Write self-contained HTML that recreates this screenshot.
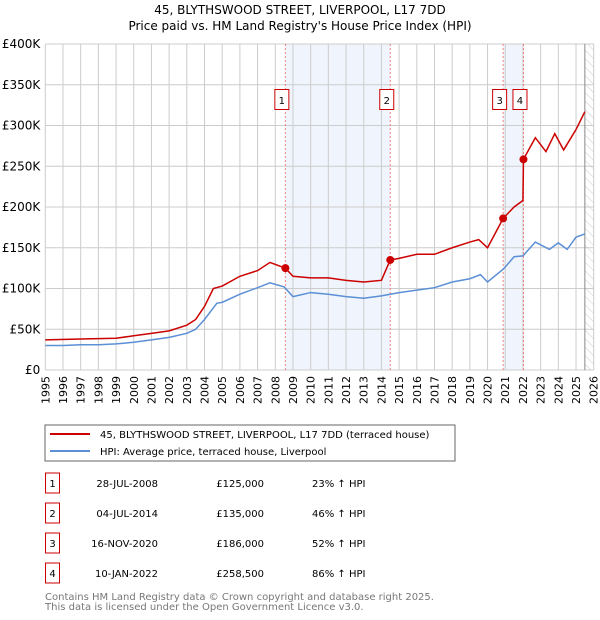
<!DOCTYPE html>
<html><head><meta charset="utf-8"><style>
body{margin:0;width:600px;height:620px;background:#fff;font-family:"DejaVu Sans","Liberation Sans",sans-serif;overflow:hidden}
svg{position:absolute;left:0;top:0}
</style></head><body>
<svg id="c" width="600" height="620" viewBox="0 0 600 620" xmlns="http://www.w3.org/2000/svg">
<defs><pattern id="h" width="6" height="6" patternUnits="userSpaceOnUse" patternTransform="rotate(-45)"><line x1="0" y1="0" x2="0" y2="6" stroke="#ccc" stroke-width="1"/></pattern></defs>
<text x="300" y="14" text-anchor="middle" font-size="12">45, BLYTHSWOOD STREET, LIVERPOOL, L17 7DD</text>
<text x="300" y="30" text-anchor="middle" font-size="12">Price paid vs. HM Land Registry's House Price Index (HPI)</text>
<g id="plot"></g>
<rect x="45" y="425" width="410" height="36" fill="#fff" stroke="#666"/>
<line x1="50" y1="434" x2="90" y2="434" stroke="#cc0000" stroke-width="2"/>
<text x="100" y="438" font-size="10">45, BLYTHSWOOD STREET, LIVERPOOL, L17 7DD (terraced house)</text>
<line x1="50" y1="451" x2="90" y2="451" stroke="#5b8fd6" stroke-width="2"/>
<text x="100" y="455" font-size="10">HPI: Average price, terraced house, Liverpool</text>
<g id="tbl" font-size="10"></g>
<text x="45" y="600" font-size="10" fill="#777">Contains HM Land Registry data © Crown copyright and database right 2025.</text>
<text x="45" y="610" font-size="10" fill="#777">This data is licensed under the Open Government Licence v3.0.</text>
</svg>
<script>
const years=[1995,1996,1997,1998,1999,2000,2001,2002,2003,2004,2005,2006,2007,2008,2009,2010,2011,2012,2013,2014,2015,2016,2017,2018,2019,2020,2021,2022,2023,2024,2025,2026];
const yTicks=[0,50000,100000,150000,200000,250000,300000,350000,400000];
const yTickLabels=["£0","£50K","£100K","£150K","£200K","£250K","£300K","£350K","£400K"];
const hpiT=[1995,1996,1997,1998,1999,2000,2001,2002,2003,2003.5,2004,2004.7,2005,2006,2007,2007.7,2008.5,2009,2010,2011,2012,2013,2014,2015,2016,2017,2018,2019,2019.6,2020,2020.9,2021.5,2022,2022.7,2023.5,2024,2024.5,2025,2025.5];
const hpiV=[30000,30000,31000,31000,32000,34000,37000,40000,45000,50000,62000,82000,83000,93000,101000,107000,102000,90000,95000,93000,90000,88000,91000,95000,98000,101000,108000,112000,117000,108000,124000,139000,140000,157000,148000,156000,148000,163000,167000];
const priceT=[1995,1997,1999,2000,2001,2002,2003,2003.5,2004,2004.5,2005,2006,2007,2007.7,2008.57,2009,2010,2011,2012,2013,2014,2014.5,2015,2016,2017,2018,2019,2019.5,2020,2020.88,2021.5,2022.0,2022.03,2022.7,2023.3,2023.8,2024.3,2025,2025.5];
const priceV=[37000,38000,39000,42000,45000,48000,55000,62000,78000,100000,103000,115000,122000,132000,125000,115000,113000,113000,110000,108000,110000,135000,137000,142000,142000,150000,157000,160000,150000,186000,200000,208000,258500,285000,268000,290000,270000,295000,317000];
const saleLabels=["1","2","3","4"];
const saleT=[2008.57,2014.5,2020.88,2022.03];
const saleV=[125000,135000,186000,258500];
const saleDates=["28-JUL-2008","04-JUL-2014","16-NOV-2020","10-JAN-2022"];
const salePrices=["£125,000","£135,000","£186,000","£258,500"];
const saleHpi=["23% ↑ HPI","46% ↑ HPI","52% ↑ HPI","86% ↑ HPI"];
const NS="http://www.w3.org/2000/svg";
const X0=45.3,XR=593.7,Y0=370,Y1=44;
const xs=t=>X0+(t-1995)/(2026-1995)*(XR-X0);
const ys=v=>Y0-v/400000*(Y0-Y1);
const plot=document.getElementById('plot');
function mk(tag,at,parent){const e=document.createElementNS(NS,tag);for(const k in at)e.setAttribute(k,at[k]);(parent||plot).appendChild(e);return e;}
let r;
r=mk('rect',{x:xs(saleT[0]),y:Y1,width:xs(saleT[1])-xs(saleT[0]),height:Y0-Y1,fill:'#f0f4fc'});


r=mk('rect',{x:xs(saleT[2]),y:Y1,width:xs(saleT[3])-xs(saleT[2]),height:Y0-Y1,fill:'#f0f4fc'});


r=mk('rect',{x:xs(2025.5),y:Y1,width:XR-xs(2025.5),height:Y0-Y1,fill:'url(#h)'});


years.forEach(y=>{const l=mk('line',{x1:xs(y),x2:xs(y),y1:Y1,y2:Y0,stroke:'#ccc'});


const t=mk('text',{x:0,y:0,'font-size':11,'text-anchor':'end',transform:`translate(${xs(y)+4},${Y0+6}) rotate(-90)`});t.textContent=y;

});
yTicks.forEach((v,i)=>{const l=mk('line',{x1:X0,x2:XR,y1:ys(v),y2:ys(v),stroke:'#ccc'});


const t=mk('text',{x:X0-5,y:ys(v)+4,'font-size':12,'text-anchor':'end'});t.textContent=yTickLabels[i];

});
r=mk('line',{x1:xs(2025.5),x2:xs(2025.5),y1:Y1,y2:Y0,stroke:'#888'});


saleT.forEach((t,i)=>{const l=mk('line',{x1:xs(t),x2:xs(t),y1:Y1,y2:Y0,stroke:'#f08080','stroke-dasharray':'2,2'});


const bx=xs(t)-10.5;
const b=mk('rect',{x:bx,y:89.5,width:14,height:20,fill:'#fff',stroke:'#cc0000'});


const tx=mk('text',{x:bx+7,y:104,'font-size':10,'text-anchor':'middle'});tx.textContent=saleLabels[i];

});
function line(T,V,c,n){const p=mk('polyline',{points:T.map((t,i)=>xs(t)+','+ys(V[i])).join(' '),fill:'none',stroke:c,'stroke-width':1.5});

}
line(hpiT,hpiV,'#5b8fd6','hpi-line');
line(priceT,priceV,'#cc0000','price-line');
saleT.forEach((t,i)=>{const c=mk('circle',{cx:xs(t),cy:ys(saleV[i]),r:4,fill:'#cc0000'});

});
const tbl=document.getElementById('tbl');
saleT.forEach((t,i)=>{const cy=483+i*30;
const b=mk('rect',{x:45.5,y:cy-10,width:14,height:20,fill:'#fff',stroke:'#cc0000'},tbl);


const a=mk('text',{x:52.5,y:cy+4,'text-anchor':'middle'},tbl);a.textContent=saleLabels[i];


const d=mk('text',{x:158,y:cy+4,'text-anchor':'end'},tbl);d.textContent=saleDates[i];


const p=mk('text',{x:264,y:cy+4,'text-anchor':'end'},tbl);p.textContent=salePrices[i];


const h=mk('text',{x:312,y:cy+4},tbl);h.textContent=saleHpi[i];

});
</script>
</body></html>
